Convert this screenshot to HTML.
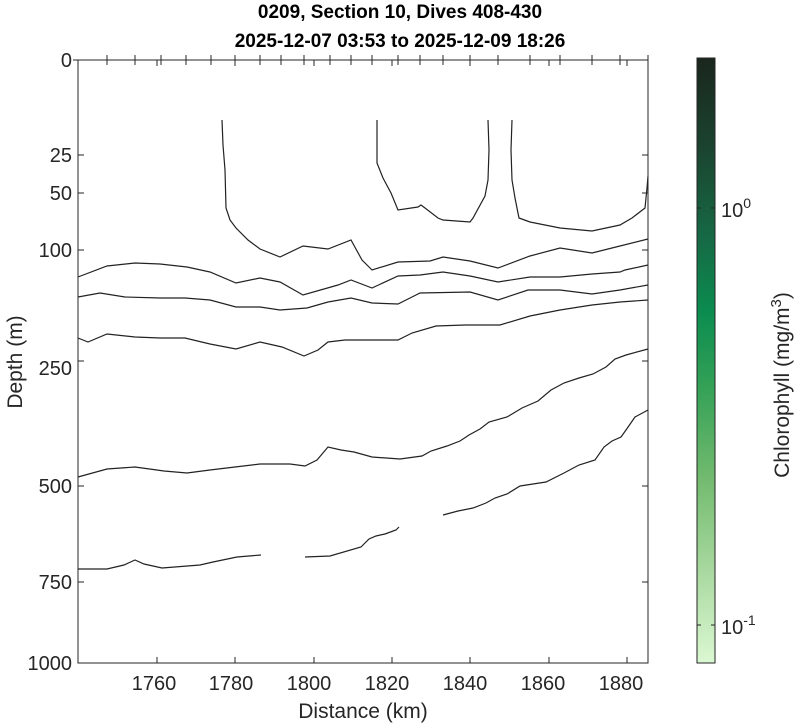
<!DOCTYPE html>
<html><head><meta charset="utf-8"><style>
html,body{margin:0;padding:0;background:#fff;}
svg{display:block;font-family:"Liberation Sans",sans-serif;}
</style></head><body>
<svg width="800" height="723" viewBox="0 0 800 723" xmlns="http://www.w3.org/2000/svg">
<defs>
<linearGradient id="cb" x1="0" y1="0" x2="0" y2="1">
<stop offset="0" stop-color="#1a261d"/>
<stop offset="0.15" stop-color="#1b4430"/>
<stop offset="0.3" stop-color="#166a45"/>
<stop offset="0.42" stop-color="#0b8c4f"/>
<stop offset="0.55" stop-color="#36a257"/>
<stop offset="0.7" stop-color="#74bb70"/>
<stop offset="0.85" stop-color="#a9d9a0"/>
<stop offset="1" stop-color="#dbf8d2"/>
</linearGradient>
</defs>
<text x="400" y="18" font-size="19" font-weight="bold" text-anchor="middle">0209, Section 10, Dives 408-430</text>
<text x="400" y="47" font-size="19" font-weight="bold" text-anchor="middle">2025-12-07 03:53 to 2025-12-09 18:26</text>
<g fill="none" stroke="#222" stroke-width="1.2">
<polyline points="222,120 223,145 225,170 226,208 230,220 236,228 248,240 260,249 280,257 303,246 328,249 351,240 362,260 372,270 398,262 430,261 443,257 470,261 498,268 530,256 560,248 592,253 620,246 648,239"/>
<polyline points="78,277 107,266 135,263 160,264 187,267 210,272 236,283 260,278 280,282 303,295 338,285 351,280 372,288 398,276 420,275 443,272 470,276 498,282 530,277 560,277 592,274 620,272 625,270 648,265"/>
<polyline points="78,297 100,293 125,297 160,298 185,298 210,300 236,307 260,307 280,310 307,308 328,302 351,298 372,303 398,304 412,297 420,293 470,292 498,300 528,290 560,290 592,294 620,290 648,285"/>
<polyline points="78,338 88,342 107,334 135,337 160,338 185,338 210,344 236,349 260,342 282,347 304,356 318,350 328,342 345,340 398,340 412,333 436,326 465,325 500,325 530,316 560,310 592,305 620,302 648,300"/>
<polyline points="377,120 377,163 383,178 391,193 398,210 418,207 421,205 425,208 438,218 443,220 470,222 473,218 485,196 488,180 489,150 488,120"/>
<polyline points="512,120 511,150 512,180 515,198 519,218 530,222 560,228 592,231 620,225 632,218 645,208 647,188 648,176"/>
<polyline points="78,477 107,469 135,467 164,471 187,473 210,470 235,467 260,464 290,464 305,466 317,460 328,447 341,450 354,452 372,457 400,459 422,456 431,451 447,446 460,441 469,435 480,429 489,422 507,417 522,408 538,401 551,390 564,383 579,378 593,374 606,367 615,359 626,355 648,349"/>
<polyline points="443,515 458,511 473,508 486,503 495,498 507,494 520,486 546,482 564,473 579,465 595,460 604,447 612,441 621,437 626,430 635,417 648,410"/>
<polyline points="78,569 107,569 124,565 135,560 144,564 162,568 200,565 213,562 237,557 261,555"/>
<polyline points="305,557 330,556 361,547 369,539 376,536 385,534 396,530 399,527"/>
</g>
<rect x="78" y="60" width="570" height="603" fill="none" stroke="#262626" stroke-width="1"/>
<g stroke="#262626" stroke-width="1">
<line x1="78" y1="155" x2="84" y2="155"/><line x1="648" y1="155" x2="642" y2="155"/>
<line x1="78" y1="193" x2="84" y2="193"/><line x1="648" y1="193" x2="642" y2="193"/>
<line x1="78" y1="250" x2="84" y2="250"/><line x1="648" y1="250" x2="642" y2="250"/>
<line x1="78" y1="361" x2="84" y2="361"/><line x1="648" y1="361" x2="642" y2="361"/>
<line x1="78" y1="486" x2="84" y2="486"/><line x1="648" y1="486" x2="642" y2="486"/>
<line x1="78" y1="582" x2="84" y2="582"/><line x1="648" y1="582" x2="642" y2="582"/>
<line x1="157" y1="663" x2="157" y2="657"/><line x1="157" y1="60" x2="157" y2="66"/>
<line x1="235" y1="663" x2="235" y2="657"/><line x1="235" y1="60" x2="235" y2="66"/>
<line x1="314" y1="663" x2="314" y2="657"/><line x1="314" y1="60" x2="314" y2="66"/>
<line x1="392" y1="663" x2="392" y2="657"/><line x1="392" y1="60" x2="392" y2="66"/>
<line x1="470" y1="663" x2="470" y2="657"/><line x1="470" y1="60" x2="470" y2="66"/>
<line x1="549" y1="663" x2="549" y2="657"/><line x1="549" y1="60" x2="549" y2="66"/>
<line x1="627" y1="663" x2="627" y2="657"/><line x1="627" y1="60" x2="627" y2="66"/>
</g>
<g stroke="#262626" stroke-width="1">
<line x1="107" y1="55" x2="107" y2="65"/><line x1="135" y1="55" x2="135" y2="65"/>
<line x1="161" y1="55" x2="161" y2="65"/><line x1="186" y1="55" x2="186" y2="65"/>
<line x1="211" y1="55" x2="211" y2="65"/><line x1="235" y1="55" x2="235" y2="65"/>
<line x1="260" y1="55" x2="260" y2="65"/><line x1="281" y1="55" x2="281" y2="65"/>
<line x1="304" y1="55" x2="304" y2="65"/><line x1="330" y1="55" x2="330" y2="65"/>
<line x1="351" y1="55" x2="351" y2="65"/><line x1="372" y1="55" x2="372" y2="65"/>
<line x1="398" y1="55" x2="398" y2="65"/><line x1="420" y1="55" x2="420" y2="65"/>
<line x1="443" y1="55" x2="443" y2="65"/><line x1="470" y1="55" x2="470" y2="65"/>
<line x1="498" y1="55" x2="498" y2="65"/><line x1="530" y1="55" x2="530" y2="65"/>
<line x1="560" y1="55" x2="560" y2="65"/><line x1="592" y1="55" x2="592" y2="65"/>
<line x1="620" y1="55" x2="620" y2="65"/><line x1="648" y1="55" x2="648" y2="65"/>
<line x1="73" y1="60" x2="83" y2="60"/>
</g>
<g font-size="20" fill="#262626" text-anchor="end">
<text x="72" y="67">0</text>
<text x="72" y="162">25</text>
<text x="72" y="200">50</text>
<text x="72" y="257">100</text>
<text x="72" y="375">250</text>
<text x="72" y="493">500</text>
<text x="72" y="589">750</text>
<text x="72" y="670">1000</text>
</g>
<g font-size="20" fill="#262626" text-anchor="middle">
<text x="154" y="690">1760</text>
<text x="231" y="690">1780</text>
<text x="309" y="690">1800</text>
<text x="387" y="690">1820</text>
<text x="465" y="690">1840</text>
<text x="543" y="690">1860</text>
<text x="621" y="690">1880</text>
</g>
<text x="363" y="718" font-size="21" fill="#262626" text-anchor="middle">Distance (km)</text>
<text transform="translate(22,362) rotate(-90)" font-size="21" fill="#262626" text-anchor="middle">Depth (m)</text>
<rect x="697" y="58" width="18" height="605" fill="url(#cb)" stroke="#262626" stroke-width="1"/>
<g stroke="#262626" stroke-width="1">
<line x1="697" y1="208" x2="701" y2="208"/><line x1="715" y1="208" x2="711" y2="208"/>
<line x1="697" y1="625" x2="701" y2="625"/><line x1="715" y1="625" x2="711" y2="625"/>
</g>
<text x="721" y="217" font-size="20" fill="#262626">10<tspan dy="-9" font-size="14">0</tspan></text>
<text x="721" y="634" font-size="20" fill="#262626">10<tspan dy="-9" font-size="14">-1</tspan></text>
<text transform="translate(789,385) rotate(-90)" font-size="21" fill="#262626" text-anchor="middle">Chlorophyll (mg/m<tspan dy="-8" font-size="15">3</tspan><tspan dy="8">)</tspan></text>
</svg>
</body></html>
